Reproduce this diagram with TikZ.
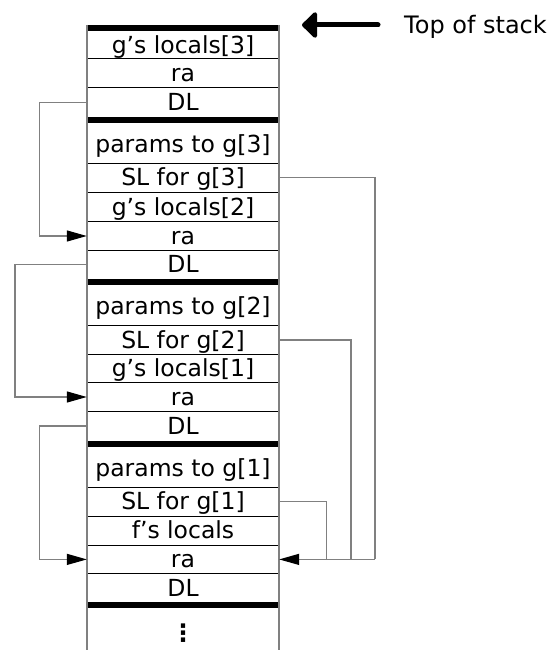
\documentclass[tikz,border=0pt]{standalone}
\usepackage{fontspec}
\setmainfont{DejaVu Sans}
\usetikzlibrary{arrows.meta}
\definecolor{sidegray}{RGB}{128,128,128}
\tikzset{
  cell/.style={minimum width=192pt, inner sep=0pt, text height=22.7pt, text depth=6.3pt, font=\fontsize{23.5}{28}\selectfont},
  paramcell/.style={cell, text height=29pt, text depth=11pt},
  thinsep/.style={black, line width=1pt},
  thicksep/.style={black, line width=6pt},
  side/.style={sidegray, line width=1.5pt},
  link/.style={sidegray, line width=1.3pt},
  linkarrow/.style={link, -{Triangle[length=20pt,width=11pt,color=black]}},
}
\begin{document}
\begin{tikzpicture}[x=1pt,y=-1pt]
\useasboundingbox (0,0) rectangle (557,650);
% cells
\node[cell] (gl3) at (183,45) {g's locals[3]};
\node[cell] (ra4) at (183,73.5) {ra};
\node[cell] (dl3) at (183,102.5) {DL};
\node[paramcell] (p3) at (183,143) {params to g[3]};
\node[cell] (sl3) at (183,177.5) {SL for g[3]};
\node[cell] (gl2) at (183,207) {g's locals[2]};
\node[cell] (ra3) at (183,236) {ra};
\node[cell] (dl2) at (183,264.5) {DL};
\node[paramcell] (p2) at (183,305.3) {params to g[2]};
\node[cell] (sl2) at (183,340) {SL for g[2]};
\node[cell] (gl1) at (183,368.5) {g's locals[1]};
\node[cell] (ra2) at (183,397) {ra};
\node[cell] (dl1) at (183,426) {DL};
\node[paramcell] (p1) at (183,467) {params to g[1]};
\node[cell] (sl1) at (183,501.7) {SL for g[1]};
\node[cell] (fl) at (183,530.5) {f's locals};
\node[cell] (ra1) at (183,559.4) {ra};
\node[cell] (dl0) at (183,588) {DL};
\node[inner sep=0pt, font=\bfseries\fontsize{24}{26}\selectfont] (dots) at (183,633.5) {⋮};
% separators
\foreach \yy in {59,88,163,192,221.7,250,325.7,354.3,382.7,411.7,487.3,516,545,573.7}
  \draw[thinsep] (87,\yy) -- (279,\yy);
\foreach \yy in {28,120,282,443.7,605.3}
  \draw[thicksep] (87,\yy) -- (279,\yy);
% sides
\draw[side] (87,25) -- (87,650);
\draw[side] (279,25) -- (279,650);
% top of stack
\coordinate (tail) at (378,25);
\coordinate (tip) at (302,25);
\draw[black, line width=5pt, line cap=round, -{Triangle[length=16pt,width=30pt,round=false]}] (tail) -- (tip);
\node[anchor=base west, inner sep=0pt, font=\fontsize{24}{28}\selectfont] (tos) at (404,33.3) {Top of stack};
% dynamic links (left)
\draw[linkarrow] (dl3.west) -- (39.3,102.5) -- (39.3,236) -- (ra3.west);
\draw[linkarrow] (dl2.west) -- (15,264.5) -- (15,397) -- (ra2.west);
\draw[linkarrow] (dl1.west) -- (39.3,426) -- (39.3,559.4) -- (ra1.west);
% static links (right)
\coordinate (j3) at (375,559.4);
\draw[link] (sl3.east) -- (375,177.5) -- (j3);
\draw[link] (sl2.east) -- (351,340) -- (351,559.4);
\draw[link] (sl1.east) -- (326.7,501.7) -- (326.7,559.4);
\draw[linkarrow] (j3) -- (ra1.east);
\end{tikzpicture}
\end{document}
